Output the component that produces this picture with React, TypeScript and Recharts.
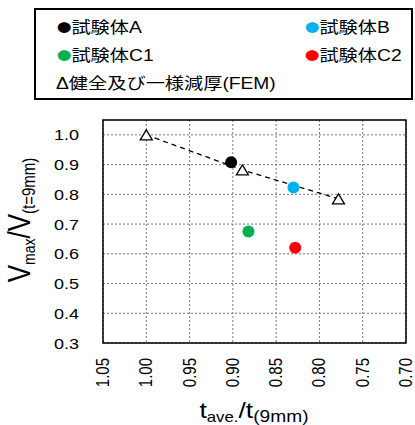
import { ScatterChart, Scatter, XAxis, YAxis, CartesianGrid, ReferenceArea } from "recharts";

const X_TICKS = [1.05, 1.0, 0.95, 0.9, 0.85, 0.8, 0.75, 0.7];
const Y_TICKS = [0.3, 0.4, 0.5, 0.6, 0.7, 0.8, 0.9, 1.0];

const femData = [
  { x: 1.0, y: 1.0 },
  { x: 0.889, y: 0.882 },
  { x: 0.778, y: 0.785 },
];
const specA = [{ x: 0.902, y: 0.908 }];
const specB = [{ x: 0.83, y: 0.823 }];
const specC1 = [{ x: 0.882, y: 0.675 }];
const specC2 = [{ x: 0.828, y: 0.62 }];

const FONT = '"Liberation Sans", Arial, "Noto Sans CJK JP", sans-serif';

// the original looks stretched sideways a bit
const STRETCH = 1.2;

const Dot = (color: string) => (props: any) => (
  <circle cx={props.cx} cy={props.cy} r={6} fill={color} />
);

const Triangle = (props: any) => {
  const { cx, cy } = props;
  return (
    <path
      d={`M${cx},${cy - 5} L${cx + 6},${cy + 5} L${cx - 6},${cy + 5} Z`}
      fill="#fff"
      stroke="#000"
      strokeWidth={1.3}
    />
  );
};

const XTick = ({ x, payload }: any) => (
  <text
    transform={`translate(${x + 6},358) rotate(-90) scale(1,${STRETCH})`}
    textAnchor="end"
    fontSize={15}
    fontFamily={FONT}
    fill="#000"
  >
    {payload.value.toFixed(2)}
  </text>
);

const YTick = ({ x, y, payload }: any) => (
  <text
    transform={`translate(${x - 22},${y + 5.5}) scale(${STRETCH},1)`}
    textAnchor="end"
    fontSize={15}
    fontFamily={FONT}
    fill="#000"
  >
    {payload.value.toFixed(1)}
  </text>
);

const YLabel = () => (
  <text
    transform={`translate(30,220) rotate(-90) scale(1,${STRETCH})`}
    textAnchor="middle"
    fontFamily={FONT}
    fill="#000"
  >
    <tspan fontSize={26}>V</tspan>
    <tspan fontSize={14} dy={4}>max</tspan>
    <tspan fontSize={26} dy={-4}>/V</tspan>
    <tspan fontSize={15} dy={4}>(t=9mm)</tspan>
  </text>
);

const XLabel = () => (
  <text
    transform={`translate(254,418) scale(${STRETCH},1)`}
    textAnchor="middle"
    fontFamily={FONT}
    fill="#000"
  >
    <tspan fontSize={22}>t</tspan>
    <tspan fontSize={14} dy={4}>ave.</tspan>
    <tspan fontSize={22} dy={-4}>/t</tspan>
    <tspan fontSize={16} dy={4}>(9mm)</tspan>
  </text>
);

const legendItems = [
  { label: "試験体A", color: "#000", left: 57, top: 18 },
  { label: "試験体B", color: "#00b0f0", left: 305, top: 18 },
  { label: "試験体C1", color: "#00b050", left: 57, top: 46 },
  { label: "試験体C2", color: "#ff0000", left: 305, top: 46 },
];

const legendText = {
  position: "absolute" as const,
  fontFamily: FONT,
  fontSize: 16,
  lineHeight: "20px",
  whiteSpace: "nowrap" as const,
  transform: `scaleX(${STRETCH})`,
  transformOrigin: "left center",
};

export default function App() {
  return (
    <div style={{ position: "absolute", left: 0, top: 0, width: 415, height: 425, overflow: "hidden", background: "#fff" }}>
      <div
        style={{
          position: "absolute",
          left: 34,
          top: 8,
          width: 375,
          height: 88,
          border: "2px solid #000",
        }}
      />
      {legendItems.map((it) => (
        <div key={it.label} style={{ ...legendText, left: it.left, top: it.top }}>
          <span style={{ color: it.color, fontFamily: '"Noto Sans CJK JP", sans-serif', fontSize: 12 }}>●</span>
          {it.label}
        </div>
      ))}
      <div style={{ ...legendText, left: 56, top: 74 }}>Δ健全及び一様減厚(FEM)</div>
      <ScatterChart width={415} height={425} margin={{ top: 120, right: 9, bottom: 0, left: 0 }}>
        <CartesianGrid stroke="#777" strokeDasharray="2 2" />
        <XAxis
          type="number"
          dataKey="x"
          domain={[0.7, 1.05]}
          reversed
          ticks={X_TICKS}
          interval={0}
          tick={<XTick />}
          tickLine={false}
          tickSize={0}
          axisLine={false}
          height={82}
          label={{ content: () => <XLabel /> }}
        />
        <YAxis
          type="number"
          dataKey="y"
          domain={[0.3, 1.05]}
          ticks={Y_TICKS}
          interval={0}
          tick={<YTick />}
          tickLine={false}
          tickSize={0}
          axisLine={false}
          width={103}
          label={{ content: () => <YLabel /> }}
        />
        <ReferenceArea x1={1.05} x2={0.7} y1={0.3} y2={1.05} fill="none" stroke="#000" strokeWidth={1.5} />
        <Scatter
          data={femData}
          shape={Triangle}
          line={{ stroke: "#000", strokeWidth: 1.3, strokeDasharray: "5 4" }}
          isAnimationActive={false}
        />
        <Scatter data={specA} shape={Dot("#000")} isAnimationActive={false} />
        <Scatter data={specB} shape={Dot("#00b0f0")} isAnimationActive={false} />
        <Scatter data={specC1} shape={Dot("#00b050")} isAnimationActive={false} />
        <Scatter data={specC2} shape={Dot("#ff0000")} isAnimationActive={false} />
      </ScatterChart>
    </div>
  );
}
